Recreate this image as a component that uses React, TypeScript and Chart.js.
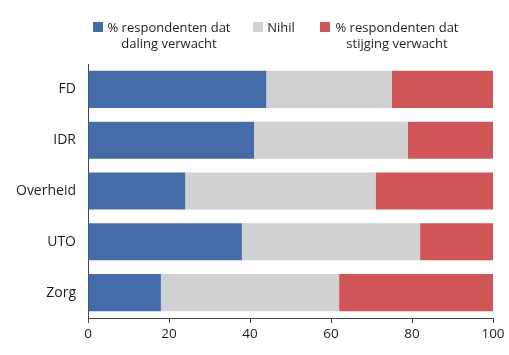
import React, { useEffect, useRef } from "react";
import { Chart, registerables } from "chart.js";

Chart.register(...registerables);

const categories = ["FD", "IDR", "Overheid", "UTO", "Zorg"];
const dalingValues = [44, 41, 24, 38, 18];
const nihilValues = [31, 38, 47, 44, 44];
const stijgingValues = [25, 21, 29, 18, 38];
const xTicks = [0, 20, 40, 60, 80, 100];
const legendLabels = [
  ["% respondenten dat", "daling verwacht"],
  ["Nihil"],
  ["% respondenten dat", "stijging verwacht"],
];

const BLUE = "#466BA9";
const GREY = "#D0D1D3";
const RED = "#D05558";
const FONT = "'Open Sans', sans-serif";
const TEXT = "#1E1E1E";

const legendPlugin = {
  id: "customLegend",
  afterDraw(chart: any) {
    const ctx = chart.ctx;
    const colors = [BLUE, GREY, RED];
    const boxX = [93, 253, 320];
    const centers = [169, 281, 397];
    ctx.save();
    ctx.font = `13px ${FONT}`;
    ctx.textBaseline = "alphabetic";
    legendLabels.forEach((lines, i) => {
      ctx.fillStyle = colors[i];
      ctx.fillRect(boxX[i], 22, 10, 10);
      ctx.fillStyle = TEXT;
      ctx.textAlign = "center";
      lines.forEach((line, j) => {
        ctx.fillText(line, centers[i], 32 + j * 16);
      });
    });
    ctx.restore();
  },
};

export default function App() {
  const canvasRef = useRef<HTMLCanvasElement | null>(null);

  useEffect(() => {
    if (!canvasRef.current) return;
    const chart = new Chart(canvasRef.current, {
      type: "bar",
      data: {
        labels: categories,
        datasets: [
          { label: legendLabels[0].join(" "), data: dalingValues, backgroundColor: BLUE },
          { label: legendLabels[1].join(" "), data: nihilValues, backgroundColor: GREY },
          { label: legendLabels[2].join(" "), data: stijgingValues, backgroundColor: RED },
        ],
      },
      options: {
        indexAxis: "y",
        animation: false,
        responsive: false,
        maintainAspectRatio: false,
        datasets: { bar: { barPercentage: 0.73, categoryPercentage: 1 } },
        layout: { padding: { left: 8, right: 16, top: 64, bottom: 0 } },
        plugins: { legend: { display: false }, tooltip: { enabled: false } },
        scales: {
          x: {
            stacked: true,
            min: 0,
            max: 100,
            afterFit: (scale: any) => {
              scale.height = 37;
            },
            afterBuildTicks: (scale: any) => {
              scale.ticks = xTicks.map((v) => ({ value: v }));
            },
            grid: { drawOnChartArea: false, drawTicks: true, tickLength: 5, color: "#444" },
            border: { display: true, color: "#444", width: 1 },
            ticks: { font: { family: FONT, size: 13.5 }, color: TEXT, padding: 3, maxRotation: 0 },
          },
          y: {
            stacked: true,
            afterFit: (scale: any) => {
              scale.width = 80;
            },
            grid: { display: false, drawTicks: false },
            border: { display: true, color: "#444", width: 1 },
            ticks: { font: { family: FONT, size: 14 }, color: TEXT, padding: 12 },
          },
        },
      },
      plugins: [legendPlugin],
    });
    return () => chart.destroy();
  }, []);

  return (
    <div style={{ position: "fixed", left: 0, top: 0, width: 509, height: 355, background: "#fff" }}>
      <canvas ref={canvasRef} width={509} height={355} style={{ width: 509, height: 355 }} />
    </div>
  );
}
